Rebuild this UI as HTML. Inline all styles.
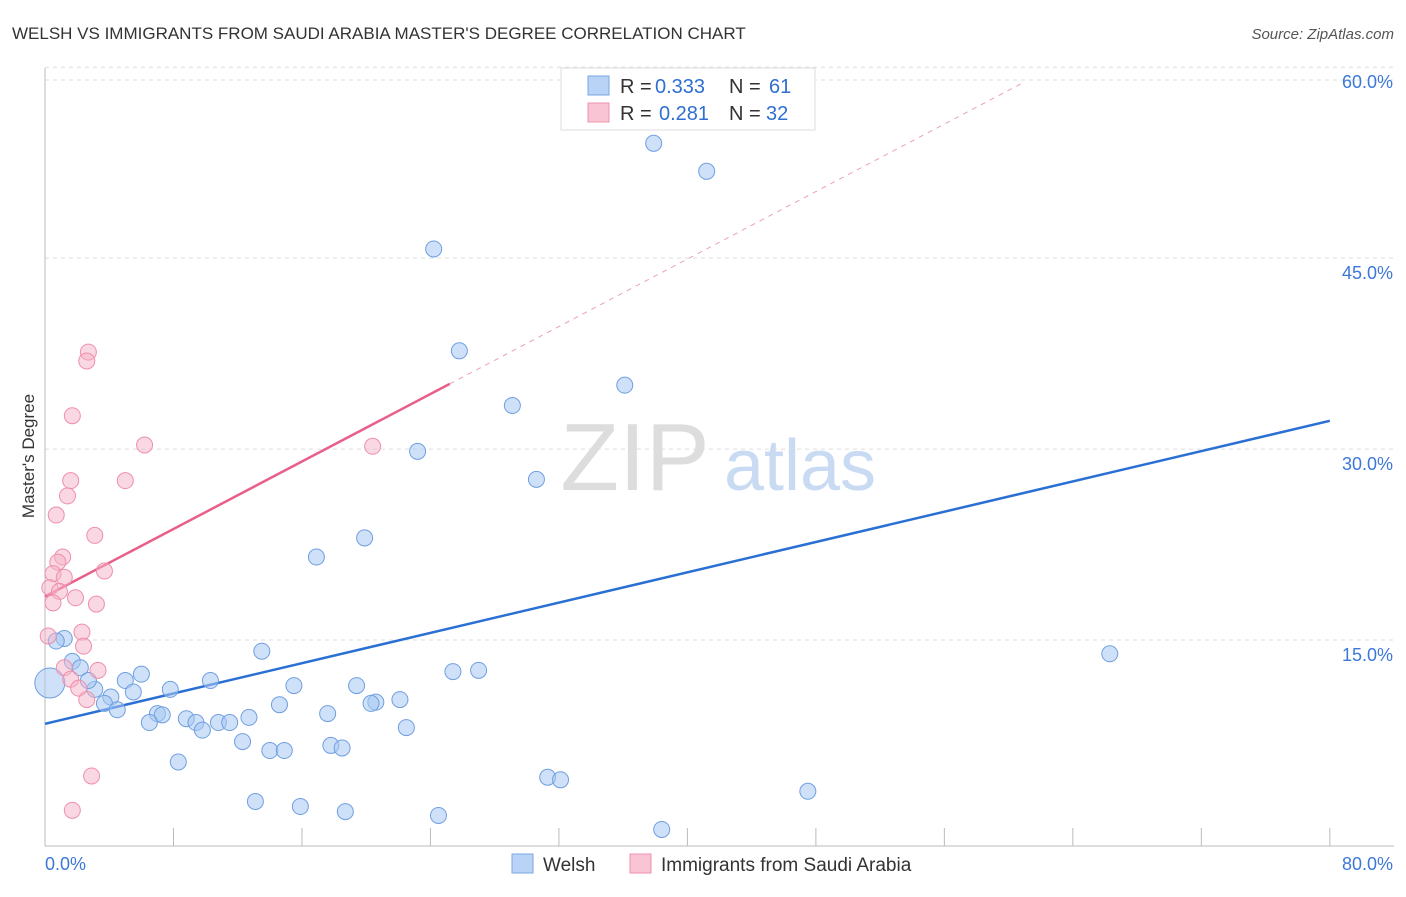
<!DOCTYPE html>
<html><head><meta charset="utf-8"><style>
body{margin:0;background:#fff;font-family:"Liberation Sans",sans-serif}
svg text{font-family:"Liberation Sans",sans-serif}
</style></head><body>
<svg id="chart" width="1406" height="892" xmlns="http://www.w3.org/2000/svg">
<text x="12" y="39" font-size="17" fill="#333">WELSH VS IMMIGRANTS FROM SAUDI ARABIA MASTER'S DEGREE CORRELATION CHART</text>
<text x="1394" y="39" font-size="15" fill="#555" font-style="italic" text-anchor="end">Source: ZipAtlas.com</text>
<text x="34" y="456" font-size="17" fill="#333" text-anchor="middle" transform="rotate(-90 34 456)">Master's Degree</text>
<g><text x="635" y="490" font-size="96" fill="#ddd" font-family="Liberation Serif" text-anchor="middle">ZIP</text><text x="800" y="490" font-size="72" fill="#c9dbf3" text-anchor="middle">atlas</text></g>
<g id="grid"></g><g id="axes"></g><g id="lines"></g><g id="pts"></g>
<g>
<rect x="561" y="68" width="254" height="62" fill="#fff" stroke="#ddd"/>
<rect x="588" y="76" width="21" height="19" fill="#b8d3f6" stroke="#7aa7e2"/>
<rect x="588" y="103" width="21" height="19" fill="#f9c4d3" stroke="#ef92ad"/>
<text x="620" y="93" font-size="20" fill="#333">R =</text>
<text x="655" y="93" font-size="20" fill="#2f6fd1">0.333</text>
<text x="729" y="93" font-size="20" fill="#333">N =</text>
<text x="769" y="93" font-size="20" fill="#2f6fd1">61</text>
<text x="620" y="120" font-size="20" fill="#333">R =</text>
<text x="659" y="120" font-size="20" fill="#2f6fd1">0.281</text>
<text x="729" y="120" font-size="20" fill="#333">N =</text>
<text x="766" y="120" font-size="20" fill="#2f6fd1">32</text>
</g>
<g>
<rect x="512" y="854" width="21" height="19" fill="#b8d3f6" stroke="#7aa7e2"/>
<text x="543" y="871" font-size="19" fill="#333">Welsh</text>
<rect x="630" y="854" width="21" height="19" fill="#f9c4d3" stroke="#ef92ad"/>
<text x="661" y="871" font-size="19" fill="#333">Immigrants from Saudi Arabia</text>
</g>
</svg>
<script>
const yTicks=[15,30,45,60];
const yTickLabels=["15.0%","30.0%","45.0%","60.0%"];
const xTicks=[0,8,16,24,32,40,48,56,64,72,80];
const welshX=[37.9,41.2,24.2,25.8,36.1,29.1,23.2,30.6,19.9,16.9,66.3,13.5,27.0,25.4,6.0,5.0,10.3,15.5,19.4,7.8,3.1,5.5,4.1,22.1,20.6,20.3,14.6,3.7,4.5,7.0,7.3,17.6,8.8,12.7,10.8,11.5,9.4,6.5,9.8,22.5,12.3,17.8,18.5,14.0,14.9,8.3,31.3,32.1,47.5,13.1,15.9,18.7,24.5,38.4,1.2,0.7,1.7,2.2,2.7,0.3];
const welshY=[55.2,53.0,46.9,38.9,36.2,34.6,31.0,28.8,24.2,22.7,15.1,15.3,13.8,13.7,13.5,13.0,13.0,12.6,12.6,12.3,12.3,12.1,11.7,11.5,11.3,11.2,11.1,11.2,10.7,10.4,10.3,10.4,10.0,10.1,9.7,9.7,9.7,9.7,9.1,9.3,8.2,7.9,7.7,7.5,7.5,6.6,5.4,5.2,4.3,3.5,3.1,2.7,2.4,1.3,16.3,16.1,14.5,14.0,13.0,12.8];
const saudiX=[2.7,2.6,1.7,6.2,1.6,5.0,1.4,0.7,3.1,1.1,0.8,3.7,0.5,1.2,0.3,0.9,1.9,0.5,3.2,2.3,0.2,2.4,1.2,3.3,1.6,2.1,2.6,2.9,1.7,20.4];
const saudiY=[38.8,38.1,33.8,31.5,28.7,28.7,27.5,26.0,24.4,22.7,22.3,21.6,21.4,21.1,20.3,20.0,19.5,19.1,19.0,16.8,16.5,15.7,14.0,13.8,13.1,12.4,11.5,5.5,2.8,31.4];
const welshTrend=[9.6,33.4];
const saudiTrend=[19.6,36.3,25.2];
const NS="http://www.w3.org/2000/svg";
const X=v=>45+v*16.06, Y=v=>846-v*12.73;
function mk(p,t,a){const e=document.createElementNS(NS,t);for(const k in a)e.setAttribute(k,a[k]);document.getElementById(p).appendChild(e);return e;}
yTicks.forEach((t,i)=>{
 const g=mk('grid','line',{x1:45,x2:1394,y1:Y(t)-15,y2:Y(t)-15,stroke:'#ddd','stroke-dasharray':'4 4'});
 
 
 const tx=mk('axes','text',{x:1393,y:Y(t)+6,'font-size':18,fill:'#3c78d8','text-anchor':'end'});tx.textContent=yTickLabels[i];
 
 
});
const topGrid=mk('grid','line',{x1:45,x2:1394,y1:80,y2:80,stroke:'#ddd','stroke-dasharray':'4 4'});


mk('axes','line',{x1:45,x2:45,y1:68,y2:846,stroke:'#bbb'});
mk('axes','line',{x1:45,x2:1394,y1:846,y2:846,stroke:'#bbb'});
xTicks.forEach(t=>{const l=mk('axes','line',{x1:X(t),x2:X(t),y1:828,y2:846,stroke:'#bbb'});
 
 });
const x0=mk('axes','text',{x:45,y:870,'font-size':18,fill:'#3c78d8'});x0.textContent='0.0%';


const x1=mk('axes','text',{x:1393,y:870,'font-size':18,fill:'#3c78d8','text-anchor':'end'});x1.textContent='80.0%';


welshX.forEach((v,i)=>{const c=mk('pts','circle',{cx:X(v),cy:Y(welshY[i]),r:i==welshX.length-1?15:8,fill:'rgba(168,200,242,0.55)',stroke:'#6f9fe0','stroke-width':1});
 
 });
saudiX.forEach((v,i)=>{const c=mk('pts','circle',{cx:X(v),cy:Y(saudiY[i]),r:8,fill:'rgba(246,178,200,0.5)',stroke:'#ee8fab','stroke-width':1});
 
 });
const wl=mk('lines','line',{x1:X(0),y1:Y(welshTrend[0]),x2:X(80),y2:Y(welshTrend[1]),stroke:'#2a6fd4','stroke-width':2.5});


const slope=(saudiTrend[1]-saudiTrend[0])/saudiTrend[2];
const sx=mk('lines','line',{x1:X(saudiTrend[2]),y1:Y(saudiTrend[1]),x2:X((60-saudiTrend[0])/slope),y2:Y(60),stroke:'#eaa0b8','stroke-width':1,'stroke-dasharray':'5 5'});


const ps=mk('lines','line',{x1:X(0),y1:Y(saudiTrend[0]),x2:X(saudiTrend[2]),y2:Y(saudiTrend[1]),stroke:'#e8608a','stroke-width':2.5});


</script>
</body></html>
